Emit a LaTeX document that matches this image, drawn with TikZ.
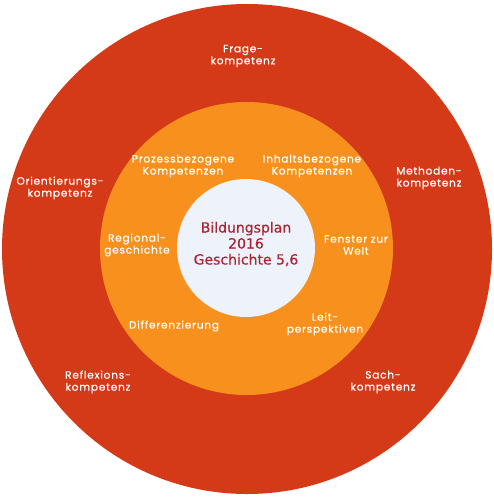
\documentclass[tikz,border=0pt]{standalone}
\usepackage{fontspec}
\setmainfont{DejaVu Sans}
\newfontfamily\ringfont[LetterSpace=7,FakeBold=0.4]{Poppins}
\newfontfamily\corefont[FakeBold=0.5]{DejaVu Sans}
\definecolor{ringred}{HTML}{D43A17}
\definecolor{ringorange}{HTML}{F8901E}
\definecolor{corefill}{HTML}{EEF2FA}
\definecolor{coretext}{HTML}{AE2232}
\tikzset{
  ringlabel/.style = {text=white,align=center,inner sep=0pt,
                      font=\ringfont\fontsize{10.6}{12}\selectfont},
  corelabel/.style = {text=coretext,align=center,inner sep=0pt,
                      font=\corefont\fontsize{14}{16}\selectfont}
}

\begin{document}
\begin{tikzpicture}[x=1pt,y=-1pt]
  \useasboundingbox (0,0) rectangle (493,497);
  \fill[white] (0,0) rectangle (493,497);
  % rings
  \fill[ringred] (247,249) circle[radius=245pt];
  \fill[ringorange] (246.5,248.5) circle[radius=146.5pt];
  \fill[corefill] (246,248) circle[radius=69pt];
  % outer ring
  \node[ringlabel] (frage)   at (243,56)  {Frage-\\kompetenz};
  \node[ringlabel] (orient)  at (60,188)  {Orientierungs-\\kompetenz};
  \node[ringlabel] (methode) at (429,178) {Methoden-\\kompetenz};
  \node[ringlabel] (reflex)  at (98,382)  {Reflexions-\\kompetenz};
  \node[ringlabel] (sach)    at (383,382) {Sach-\\kompetenz};
  % middle ring
  \node[ringlabel] (prozess) at (183,166) {Prozessbezogene\\Kompetenzen};
  \node[ringlabel] (inhalt)  at (312,166) {Inhaltsbezogene\\Kompetenzen};
  \node[ringlabel] (region)  at (137,245) {Regional-\\geschichte};
  \node[ringlabel] (fenster) at (356,245) {Fenster zur\\Welt};
  \node[ringlabel] (diff)    at (174,326) {Differenzierung};
  \node[ringlabel] (leit)    at (325,324) {Leit-\\perspektiven};
  % core
  \node[corelabel] (plan) at (246,244) {Bildungsplan\\2016\\Geschichte 5,6};
\end{tikzpicture}
\end{document}
